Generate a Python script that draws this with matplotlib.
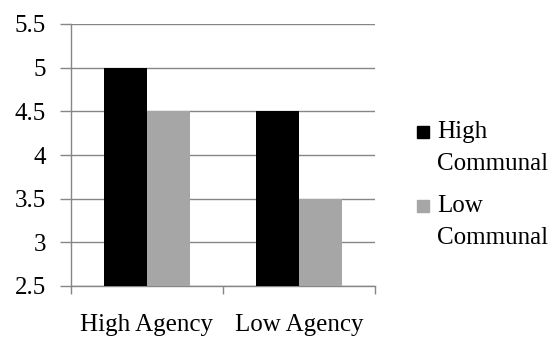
import matplotlib
matplotlib.use("Agg")
import matplotlib.pyplot as plt
from matplotlib.patches import Rectangle
import numpy as np

categories = ["High Agency", "Low Agency"]
series_names = [["High", "Communal"], ["Low", "Communal"]]
high_communal = [5.0, 4.5]
low_communal = [4.5, 3.5]
y_ticks = [2.5, 3, 3.5, 4, 4.5, 5, 5.5]
y_tick_labels = ["2.5", "3", "3.5", "4", "4.5", "5", "5.5"]
series_colors = ["black", "#a6a6a6"]

plt.rcParams["font.family"] = ["Liberation Serif", "DejaVu Serif"]
grid_color = "#868686"
fs = 18

W, H = 559, 339
fig = plt.figure(figsize=(W / 100, H / 100), dpi=100)
ax = fig.add_axes([71 / W, 1 - 286 / H, 304 / W, 262 / H])

x = np.arange(len(categories))
w = 0.286
base = 2.5
ax.bar(x - w / 2, np.array(high_communal) - base, w, bottom=base,
       color=series_colors[0], zorder=3)
ax.bar(x + w / 2, np.array(low_communal) - base, w, bottom=base,
       color=series_colors[1], zorder=3)

ax.set_xlim(-0.5, len(categories) - 0.5)
ax.set_ylim(2.5, 5.5)
ax.set_yticks(y_ticks)
ax.set_yticklabels(y_tick_labels)
ax.yaxis.grid(True, color=grid_color, linewidth=1.0, zorder=0)
ax.set_axisbelow(True)

ax.set_xticks(x)
ax.set_xticklabels(categories)
ax.set_xticks(np.arange(-0.5, len(categories)), minor=True)
ax.tick_params(axis="x", which="major", length=0, pad=20.5, labelsize=fs)
ax.tick_params(axis="x", which="minor", length=6, width=1.0, color=grid_color, direction="out")
ax.tick_params(axis="y", length=8, width=1.0, color=grid_color, pad=10, labelsize=fs)

for s in ["top", "right"]:
    ax.spines[s].set_visible(False)
for s in ["left", "bottom"]:
    ax.spines[s].set_color(grid_color)
    ax.spines[s].set_linewidth(1.0)

# Legend on the right: square swatch beside the first line of each two-line label
def fx(px):
    return px / W

def fy(py):
    return 1 - py / H

entry_baselines = [138, 212]
for (lines, color, baseline) in zip(series_names, series_colors, entry_baselines):
    fig.patches.append(Rectangle((fx(417), fy(baseline)), 12 / W, 12 / H,
                                 transform=fig.transFigure, color=color))
    for i, line in enumerate(lines):
        fig.text(fx(437), fy(baseline + 32 * i), line, fontsize=fs,
                 va="baseline", ha="left")

fig.savefig("out.png", dpi=100)
